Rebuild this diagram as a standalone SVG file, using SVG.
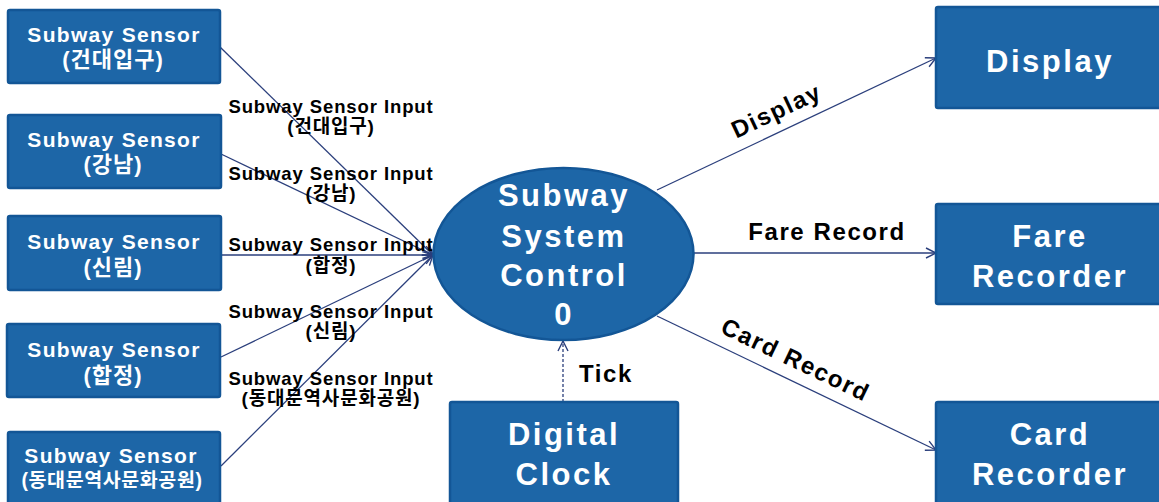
<svg xmlns="http://www.w3.org/2000/svg" width="1159" height="502" viewBox="0 0 1159 502">
<style>
.box{fill:#1d66a7;stroke:#135696;stroke-width:2.5}
.bt{font-family:"Liberation Sans","Noto Sans CJK KR",sans-serif;font-weight:bold;fill:#fff;text-anchor:middle}
.s{font-size:21px;letter-spacing:1.3px}
.k{font-size:22px;letter-spacing:1px}
.big{font-size:31px;letter-spacing:2.5px}
.lbl{font-family:"Liberation Sans","Noto Sans CJK KR",sans-serif;font-weight:bold;fill:#000;text-anchor:middle}
.l1{font-size:18.5px;letter-spacing:0.9px}
.lk{font-size:19px;letter-spacing:0.8px}
.l2{font-size:24px;letter-spacing:1.6px}
.ln{stroke:#2b3f7c;stroke-width:1.3;fill:none}
</style>
<defs>
<marker id="arr" markerUnits="userSpaceOnUse" markerWidth="14" markerHeight="14" viewBox="0 0 14 14" refX="12" refY="7" orient="auto">
<path d="M2,2 L12,7 L2,12" fill="none" stroke="#2b3f7c" stroke-width="1.4"/>
</marker>
</defs>
<g id="connectors">
<line class="ln" x1="220" y1="47" x2="433" y2="255" marker-end="url(#arr)"/>
<line class="ln" x1="221" y1="154" x2="433" y2="255" marker-end="url(#arr)"/>
<line class="ln" x1="221" y1="255" x2="433" y2="255" marker-end="url(#arr)"/>
<line class="ln" x1="221" y1="357" x2="433" y2="255" marker-end="url(#arr)"/>
<line class="ln" x1="221" y1="466" x2="433" y2="255" marker-end="url(#arr)"/>
<line class="ln" x1="657" y1="190" x2="936" y2="58" marker-end="url(#arr)"/>
<line class="ln" x1="694" y1="253" x2="936" y2="253" marker-end="url(#arr)"/>
<line class="ln" x1="657" y1="316" x2="936" y2="450" marker-end="url(#arr)"/>
<line class="ln" x1="563" y1="402" x2="563" y2="341" stroke-dasharray="3,2" marker-end="url(#arr)"/>
<text class="lbl l1" x="331" y="113">Subway Sensor Input</text>
<text class="lbl lk" x="331" y="133">(건대입구)</text>
<text class="lbl l1" x="331" y="180">Subway Sensor Input</text>
<text class="lbl lk" x="331" y="200">(강남)</text>
<text class="lbl l1" x="331" y="251">Subway Sensor Input</text>
<text class="lbl lk" x="331" y="272">(합정)</text>
<text class="lbl l1" x="331" y="318">Subway Sensor Input</text>
<text class="lbl lk" x="331" y="338">(신림)</text>
<text class="lbl l1" x="331" y="385">Subway Sensor Input</text>
<text class="lbl lk" x="331" y="405">(동대문역사문화공원)</text>
<text class="lbl l2" transform="translate(776,110) rotate(-25.2)" x="0" y="9">Display</text>
<text class="lbl l2" x="827" y="240">Fare Record</text>
<text class="lbl l2" transform="translate(796,359) rotate(25.6)" x="0" y="9">Card Record</text>
<text class="lbl l2" x="606" y="382">Tick</text>
</g>
<g id="sensor1"><rect class="box" x="8" y="10" width="212" height="73" rx="2"/><text class="bt s" x="114" y="42">Subway Sensor</text><text class="bt k" x="113" y="67">(건대입구)</text></g>
<g id="sensor2"><rect class="box" x="8" y="115" width="213" height="73" rx="2"/><text class="bt s" x="114" y="147">Subway Sensor</text><text class="bt k" x="113" y="172">(강남)</text></g>
<g id="sensor3"><rect class="box" x="8" y="216" width="213" height="74" rx="2"/><text class="bt s" x="114" y="249">Subway Sensor</text><text class="bt k" x="113" y="275">(신림)</text></g>
<g id="sensor4"><rect class="box" x="7" y="324" width="213" height="73" rx="2"/><text class="bt s" x="114" y="357">Subway Sensor</text><text class="bt k" x="113" y="383">(합정)</text></g>
<g id="sensor5"><rect class="box" x="8" y="432" width="212" height="72" rx="2"/><text class="bt s" x="111" y="463">Subway Sensor</text><text class="bt" x="112" y="487" style="font-size:19.5px;letter-spacing:0.6px">(동대문역사문화공원)</text></g>
<g id="control"><ellipse cx="563.5" cy="254" rx="130" ry="86" fill="#1d66a7" stroke="#135696" stroke-width="2.5"/>
<text class="bt big" x="564" y="206">Subway</text><text class="bt big" x="564" y="247">System</text><text class="bt big" x="564" y="286">Control</text><text class="bt big" x="564" y="325">0</text></g>
<g id="clock"><rect class="box" x="450" y="402" width="228" height="104" rx="2"/><text class="bt big" x="564" y="445">Digital</text><text class="bt big" x="564" y="485">Clock</text></g>
<g id="display"><rect class="box" x="936" y="7" width="228" height="101" rx="2"/><text class="bt big" x="1050" y="72">Display</text></g>
<g id="fare"><rect class="box" x="936" y="204" width="228" height="100" rx="2"/><text class="bt big" x="1050" y="247">Fare</text><text class="bt big" x="1050" y="287">Recorder</text></g>
<g id="card"><rect class="box" x="936" y="402" width="228" height="104" rx="2"/><text class="bt big" x="1050" y="445">Card</text><text class="bt big" x="1050" y="485">Recorder</text></g>
</svg>
